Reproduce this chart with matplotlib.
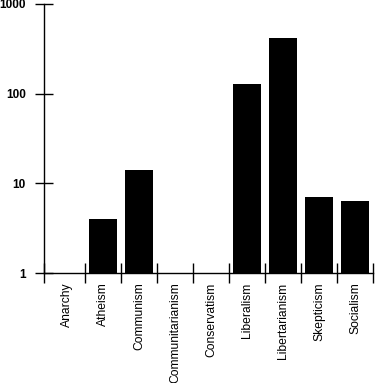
import numpy as np
import matplotlib
matplotlib.use("Agg")
import matplotlib.pyplot as plt

categories = ["Anarchy", "Atheism", "Communism", "Communitarianism", "Conservatism",
              "Liberalism", "Libertarianism", "Skepticism", "Socialism"]
counts = [1, 4, 14, 1, 1, 128, 418, 7, 6.35]
ytick_vals = [1, 10, 100, 1000]
ytick_labels = ["1", "10", "100", "1000"]

plt.rcParams["font.family"] = ["Liberation Sans", "DejaVu Sans"]

W, H = 378, 383
fig = plt.figure(figsize=(W / 100, H / 100), dpi=100)
ax = fig.add_axes([44 / W, (H - 273) / H, (373 - 44) / W, (273 - 4) / H])

x = np.arange(len(categories))
ax.bar(x, counts, width=0.78, color="black", bottom=0.0)
ax.set_yscale("log")
ax.set_ylim(1, 1000)
ax.set_xlim(-0.64, len(categories) - 0.5)

ax.set_yticks(ytick_vals)
ax.set_yticklabels(ytick_labels, fontsize=8.5, fontweight="bold")
ax.yaxis.set_minor_locator(matplotlib.ticker.NullLocator())
ax.tick_params(axis="y", direction="inout", length=13, width=1, pad=6.6)

# boundaries as major ticks, names on minor ticks at the centres
bounds = [-0.64] + list(x[1:] - 0.5) + [len(categories) - 0.5]
ax.set_xticks(bounds)
ax.set_xticklabels([""] * len(bounds))
ax.set_xticks(x, minor=True)
ax.set_xticklabels(categories, minor=True, rotation=90, fontsize=8.7, va="top")
ax.tick_params(axis="x", which="major", direction="inout", length=14.4, width=1)
ax.tick_params(axis="x", which="minor", length=0, pad=7)

for s in ["top", "right"]:
    ax.spines[s].set_visible(False)
ax.spines["left"].set_linewidth(1)
ax.spines["bottom"].set_linewidth(1)

fig.savefig("out.png", dpi=100)
